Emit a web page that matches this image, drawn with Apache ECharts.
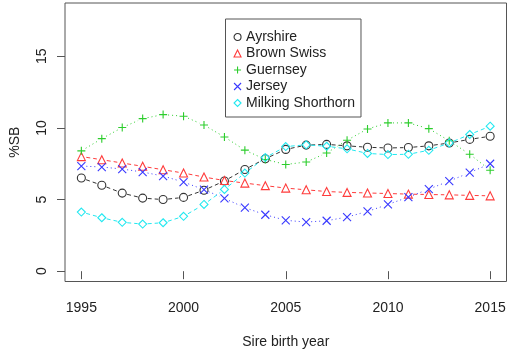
<!DOCTYPE html>
<html>
<head>
<meta charset="utf-8">
<script src="https://cdn.jsdelivr.net/npm/echarts@6/dist/echarts.min.js"></script>
<style>
  html, body { margin: 0; padding: 0; background: #fff; }
  #chart { width: 512px; height: 351px; }
</style>
</head>
<body>
<div id="chart"></div>
<script>
// 数据
var years = [1995, 1996, 1997, 1998, 1999, 2000, 2001, 2002, 2003, 2004, 2005,
             2006, 2007, 2008, 2009, 2010, 2011, 2012, 2013, 2014, 2015];
var ayrshire = [6.5, 6.0, 5.45, 5.1, 5.0, 5.15, 5.65, 6.3, 7.1, 7.85, 8.5,
                8.8, 8.85, 8.75, 8.65, 8.6, 8.63, 8.75, 8.95, 9.2, 9.42];
var brownSwiss = [8.0, 7.78, 7.55, 7.32, 7.08, 6.85, 6.57, 6.33, 6.15, 5.97, 5.8,
                  5.68, 5.56, 5.5, 5.46, 5.42, 5.38, 5.35, 5.33, 5.29, 5.26];
var guernsey = [8.4, 9.25, 10.03, 10.65, 10.93, 10.82, 10.2, 9.37, 8.45, 7.8, 7.45,
                7.62, 8.25, 9.14, 9.93, 10.35, 10.35, 9.95, 9.1, 8.16, 7.05];
var jersey = [7.34, 7.27, 7.13, 6.92, 6.64, 6.22, 5.69, 5.08, 4.43, 3.94, 3.55,
              3.43, 3.52, 3.78, 4.17, 4.66, 5.17, 5.73, 6.29, 6.88, 7.5];
var milkingShorthorn = [4.13, 3.73, 3.41, 3.29, 3.38, 3.83, 4.66, 5.71, 6.85, 7.93, 8.7,
                        8.82, 8.72, 8.54, 8.22, 8.14, 8.16, 8.44, 8.95, 9.54, 10.12];
var xTicks = [1995, 2000, 2005, 2010, 2015];
var yTicks = [0, 5, 10, 15];

var breeds = [
    {name: 'Ayrshire', values: ayrshire, color: '#333333', symbol: 'circle', dash: [4, 3]},
    {name: 'Brown Swiss', values: brownSwiss, color: '#ff3b3b', symbol: 'triangle', dash: [4, 3]},
    {name: 'Guernsey', values: guernsey, color: '#2ccd2c', symbol: 'path://M5,0L5,10M0,5L10,5', dash: [1, 3]},
    {name: 'Jersey', values: jersey, color: '#3838ff', symbol: 'path://M0,0L10,10M0,10L10,0', dash: [1, 3]},
    {name: 'Milking Shorthorn', values: milkingShorthorn, color: '#22e8f0', symbol: 'diamond', dash: [4, 3]}
];

var font = 'Liberation Sans, Arial, sans-serif';
var chart = echarts.init(document.getElementById('chart'), null, {renderer: 'canvas'});

// 断开的连线 (R type="b")
function segLine(color, dash){
    return function(params, api){
        var p0 = api.coord([api.value(0), api.value(1)]);
        var p1 = api.coord([api.value(2), api.value(3)]);
        var dx = p1[0] - p0[0], dy = p1[1] - p0[1];
        var len = Math.sqrt(dx * dx + dy * dy);
        var gap = 5;
        if (len <= gap * 2) return null;
        var ux = dx / len, uy = dy / len;
        return {
            type: 'line',
            shape: {x1: p0[0] + ux * gap, y1: p0[1] + uy * gap, x2: p1[0] - ux * gap, y2: p1[1] - uy * gap},
            style: {stroke: color, lineWidth: 1, lineDash: dash, fill: null}
        };
    };
}

var series = [];
breeds.forEach(function(b){
    var segs = [];
    for (var i = 0; i < years.length - 1; i++){
        segs.push([years[i], b.values[i], years[i + 1], b.values[i + 1]]);
    }
    series.push({
        type: 'custom',
        name: b.name + '_line',
        renderItem: segLine(b.color, b.dash),
        encode: {x: [0, 2], y: [1, 3]},
        data: segs,
        silent: true
    });
});
breeds.forEach(function(b){
    series.push({
        type: 'scatter',
        name: b.name,
        symbol: b.symbol,
        symbolSize: 8,
        itemStyle: {color: 'rgba(0,0,0,0)', borderColor: b.color, borderWidth: 1.1, opacity: 1},
        data: years.map(function(y, i){ return [y, b.values[i]]; })
    });
});

var option = {
    animation: false,
    grid: {left: 65, right: 5.5, top: 3, bottom: 69.5, show: true, borderColor: '#555', borderWidth: 1,
        containLabel: false, outerBoundsMode: 'none'},
    legend: {
        orient: 'vertical',
        left: 225.5,
        top: 19,
        data: breeds.map(function(b){
            return {name: b.name, icon: b.symbol,
                itemStyle: {color: 'rgba(0,0,0,0)', borderColor: b.color, borderWidth: 1.1}};
        }),
        itemWidth: 7,
        itemHeight: 7,
        itemGap: 2.5,
        padding: [11, 6, 7, 8],
        borderColor: '#555',
        borderWidth: 1,
        backgroundColor: '#fff',
        textStyle: {fontFamily: font, fontSize: 14, color: '#222', lineHeight: 14},
        selectedMode: false
    },
    xAxis: {
        type: 'value',
        min: 1994.2,
        max: 2015.8,
        name: 'Sire birth year',
        nameLocation: 'middle',
        nameGap: 54,
        nameMoveOverlap: false,
        nameTextStyle: {fontFamily: font, fontSize: 14, color: '#222'},
        axisLine: {show: false},
        splitLine: {show: false},
        axisTick: {show: true, inside: false, length: 8, customValues: xTicks, lineStyle: {color: '#555'}},
        axisLabel: {customValues: xTicks, margin: 20, fontFamily: font, fontSize: 14, color: '#222',
            formatter: function(v){ return String(v); }}
    },
    yAxis: {
        type: 'value',
        min: -0.72,
        max: 18.72,
        name: '%SB',
        nameLocation: 'middle',
        nameRotate: 90,
        nameGap: 43,
        nameMoveOverlap: false,
        nameTextStyle: {fontFamily: font, fontSize: 14, color: '#222'},
        axisLine: {show: false},
        splitLine: {show: false},
        axisTick: {show: true, inside: false, length: 8, customValues: yTicks, lineStyle: {color: '#555'}},
        axisLabel: {customValues: yTicks, rotate: 90, margin: 16, fontFamily: font, fontSize: 14, color: '#222',
            formatter: function(v){ return String(v); }}
    },
    series: series
};
chart.setOption(option);
</script>
</body>
</html>
